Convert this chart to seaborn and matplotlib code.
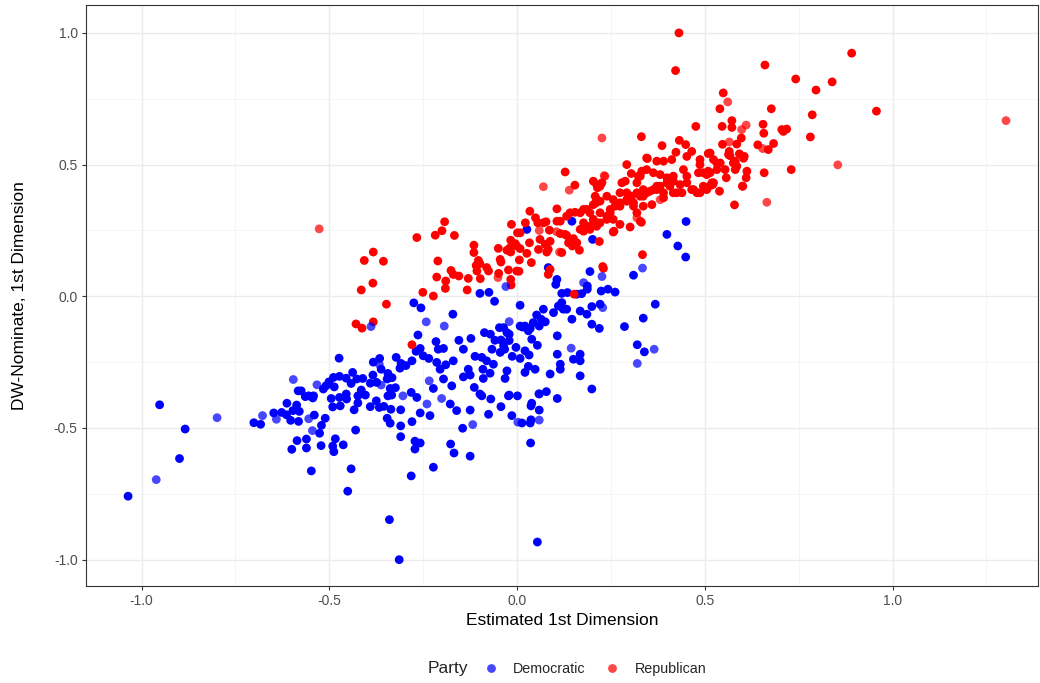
import pandas as pd
import numpy as np
import seaborn as sns
import matplotlib.pyplot as plt
from matplotlib.ticker import FormatStrFormatter

# --- data (estimated 1st dim vs DW-Nominate) ---
dem_x = [
    -1.036, -0.952, -0.899, -0.884, -0.701, -0.683, -0.648, -0.627, -0.614, -0.603,
    -0.582, -0.613, -0.587, -0.597, -0.580, -0.583, -0.575, -0.564, -0.555, -0.544,
    -0.540, -0.511, -0.521, -0.526, -0.586, -0.600, -0.561, -0.561, -0.522, -0.548,
    -0.491, -0.488, -0.484, -0.463, -0.442, -0.451, -0.340, -0.430, -0.516, -0.501,
    -0.509, -0.487, -0.473, -0.474, -0.455, -0.438, -0.427, -0.411, -0.442, -0.491,
    -0.471, -0.495, -0.473, -0.455, -0.424, -0.424, -0.404, -0.415, -0.434, -0.391,
    -0.375, -0.367, -0.355, -0.336, -0.310, -0.346, -0.338, -0.310, -0.310, -0.383,
    -0.366, -0.384, -0.391, -0.344, -0.346, -0.333, -0.322, -0.309, -0.338, -0.324,
    -0.344, -0.275, -0.256, -0.264, -0.171, -0.099, -0.075, -0.060, 0.008, -0.047,
    -0.036, -0.312, -0.296, -0.280, -0.269, -0.258, -0.250, -0.235, -0.216, -0.210,
    -0.196, -0.214, -0.205, -0.190, -0.170, -0.155, -0.143, -0.123, -0.112, -0.094,
    -0.087, -0.071, -0.059, -0.043, -0.021, -0.021, -0.003, 0.015, 0.035, 0.052,
    0.064, 0.075, 0.054, 0.032, 0.008, -0.013, -0.033, -0.067, -0.063, -0.081,
    -0.091, -0.130, -0.125, -0.143, -0.114, -0.099, -0.070, -0.043, -0.021, 0.001,
    0.030, 0.048, 0.059, 0.037, 0.059, 0.013, 0.035, 0.036, -0.014, -0.076,
    -0.125, -0.145, -0.177, -0.168, -0.125, -0.161, -0.178, -0.223, -0.196, -0.174,
    -0.258, -0.232, -0.267, -0.282, -0.489, -0.542, -0.454, -0.280, -0.272, -0.258,
    -0.272, -0.223, -0.362, -0.374, -0.334, 0.026, 0.146, 0.201, 0.399, 0.428,
    0.449, 0.450, 0.083, 0.194, 0.310, 0.106, 0.103, 0.187, 0.187, 0.119,
    0.134, 0.159, 0.172, 0.224, 0.242, 0.261, 0.070, 0.043, 0.059, 0.097,
    0.110, 0.119, 0.123, 0.132, 0.146, 0.168, 0.186, 0.199, 0.221, 0.199,
    0.219, 0.368, 0.336, 0.286, 0.320, 0.339, 0.107, 0.107, 0.115, 0.115,
    0.150, 0.168, 0.168, 0.168, 0.088, 0.008, 0.021, 0.030, 0.039, 0.021,
    -0.027, -0.036, -0.045, -0.027, 0.021, 0.199, 0.107, 0.078, -0.023, -0.094,
    0.039, 0.037, 0.054, -0.090, -0.072, -0.032, -0.314, -0.282,
]
dem_y = [
    -0.759, -0.412, -0.616, -0.504, -0.480, -0.486, -0.443, -0.441, -0.450, -0.471,
    -0.475, -0.406, -0.413, -0.434, -0.437, -0.359, -0.359, -0.381, -0.378, -0.386,
    -0.451, -0.463, -0.490, -0.520, -0.548, -0.581, -0.542, -0.576, -0.567, -0.663,
    -0.569, -0.590, -0.541, -0.564, -0.655, -0.740, -0.848, -0.508, -0.352, -0.325,
    -0.340, -0.344, -0.304, -0.235, -0.311, -0.289, -0.314, -0.312, -0.331, -0.420,
    -0.416, -0.388, -0.384, -0.371, -0.378, -0.405, -0.375, -0.356, -0.431, -0.419,
    -0.397, -0.422, -0.418, -0.429, -0.431, -0.463, -0.482, -0.492, -0.533, -0.250,
    -0.236, -0.299, -0.330, -0.293, -0.314, -0.309, -0.232, -0.255, -0.350, -0.347,
    -0.378, -0.025, -0.044, -0.147, -0.068, 0.011, 0.015, -0.019, -0.034, -0.119,
    -0.119, -0.273, -0.263, -0.245, -0.209, -0.198, -0.226, -0.236, -0.172, -0.201,
    -0.198, -0.251, -0.277, -0.260, -0.245, -0.167, -0.201, -0.160, -0.228, -0.232,
    -0.138, -0.144, -0.167, -0.166, -0.144, -0.168, -0.194, -0.117, -0.122, -0.071,
    -0.087, -0.097, -0.186, -0.223, -0.236, -0.228, -0.201, -0.201, -0.258, -0.245,
    -0.277, -0.277, -0.299, -0.306, -0.346, -0.371, -0.390, -0.419, -0.375, -0.378,
    -0.266, -0.277, -0.371, -0.416, -0.432, -0.481, -0.481, -0.557, -0.453, -0.448,
    -0.432, -0.501, -0.561, -0.595, -0.607, -0.434, -0.409, -0.350, -0.314, -0.340,
    -0.443, -0.453, -0.384, -0.365, -0.308, -0.378, -0.390, -0.476, -0.550, -0.557,
    -0.580, -0.649, -0.277, -0.327, -0.375, 0.254, 0.285, 0.216, 0.235, 0.191,
    0.149, 0.284, 0.109, 0.094, 0.080, 0.064, 0.045, 0.039, 0.027, 0.011,
    0.014, 0.008, 0.010, 0.020, 0.027, 0.016, -0.049, -0.100, -0.113, -0.062,
    -0.037, -0.024, -0.049, -0.049, -0.087, -0.056, -0.068, -0.039, -0.030, -0.106,
    -0.122, -0.030, -0.083, -0.115, -0.184, -0.211, -0.150, -0.220, -0.258, -0.277,
    -0.239, -0.220, -0.245, -0.302, -0.295, -0.113, -0.113, -0.131, -0.163, -0.207,
    -0.138, -0.188, -0.213, -0.283, -0.289, -0.352, -0.388, -0.362, -0.378, -0.378,
    -0.406, -0.469, -0.933, -0.312, -0.292, -0.312, -1.000, -0.682,
]
# single (lighter) Democratic points
dem_faint_x = [
    -0.961, -0.799, -0.678, -0.641, -0.596, -0.533, -0.555, -0.545, -0.367, -0.362,
    -0.304, -0.389, -0.242, -0.194, -0.030, -0.021, 0.059, -0.118, -0.201, -0.234,
    -0.240, 0.226, 0.334, 0.177, 0.228, 0.365, 0.320, 0.144, 0.058, 0.002,
]
dem_faint_y = [
    -0.696, -0.461, -0.453, -0.467, -0.316, -0.336, -0.465, -0.510, -0.258, -0.337,
    -0.378, -0.115, -0.097, -0.113, 0.037, -0.096, -0.470, -0.487, -0.388, -0.321,
    -0.409, 0.075, 0.107, 0.052, -0.043, -0.201, -0.255, -0.197, -0.370, -0.478,
]

rep_x = [
    -0.267, -0.218, -0.200, -0.193, -0.167, -0.115, -0.115, -0.103, -0.099, -0.109,
    -0.107, -0.081, -0.076, -0.098, -0.130, -0.133, -0.223, -0.251, -0.191, -0.190,
    -0.214, -0.176, -0.170, -0.155, -0.211, -0.050, -0.045, -0.043, -0.049, -0.023,
    -0.017, -0.016, -0.027, -0.017, -0.015, -0.017, -0.005, 0.001, -0.001, -0.407,
    -0.383, -0.356, -0.384, -0.415, -0.348, -0.429, -0.413, -0.383, -0.280, 0.154,
    0.203, 0.212, 0.210, 0.106, 0.034, 0.049, 0.077, 0.055, 0.022, 0.008,
    0.086, 0.106, 0.132, 0.154, 0.177, 0.194, 0.115, 0.132, 0.150, 0.137,
    0.159, 0.177, 0.186, 0.212, 0.033, 0.061, 0.075, 0.088, 0.079, 0.083,
    0.057, 0.147, 0.166, -0.001, -0.019, 0.008, 0.026, 0.006, 0.038, 0.005,
    0.088, 0.083, 0.212, 0.221, 0.070, 0.141, 0.168, 0.203, 0.221, 0.239,
    0.219, 0.256, 0.248, 0.261, 0.274, 0.292, 0.310, 0.328, 0.345, 0.363,
    0.381, 0.399, 0.301, 0.331, 0.359, 0.390, 0.416, 0.439, 0.487, 0.514,
    0.539, 0.579, 0.600, 0.334, 0.230, 0.152, 0.128, 0.226, 0.214, 0.292,
    0.304, 0.347, 0.372, 0.390, 0.423, 0.452, 0.465, 0.509, 0.532, 0.563,
    0.576, 0.581, 0.487, 0.496, 0.509, 0.523, 0.505, 0.465, 0.452, 0.434,
    0.416, 0.399, 0.381, 0.363, 0.345, 0.332, 0.323, 0.288, 0.279, 0.292,
    0.305, 0.319, 0.336, 0.354, 0.372, 0.390, 0.256, 0.266, 0.248, 0.239,
    0.256, 0.328, 0.208, 0.221, 0.203, 0.221, 0.203, 0.186, 0.168, 0.177,
    0.212, 0.194, 0.115, 0.128, 0.258, 0.274, 0.228, 0.119, 0.431, 0.422,
    0.660, 0.742, 0.891, 0.839, 0.796, 0.549, 0.540, 0.677, 0.786, 0.957,
    0.781, 0.730, 0.476, 0.546, 0.572, 0.572, 0.655, 0.657, 0.705, 0.718,
    0.709, 0.331, 0.386, 0.432, 0.449, 0.345, 0.412, 0.547, 0.585, 0.597,
    0.641, 0.669, 0.683, 0.565, 0.567, 0.581, 0.585, 0.605, 0.612, 0.610,
    0.601, 0.658, 0.514, 0.523, 0.541, 0.554, 0.557, 0.483, 0.505, 0.519,
    0.496, 0.479, 0.443, 0.452, 0.425, 0.407, 0.416, 0.372, 0.336, 0.319,
    0.328, 0.274, 0.239, 0.292, 0.310, 0.336, 0.274, 0.319, 0.487, 0.532,
    0.514, 0.521, 0.470, 0.592, 0.603,
]
rep_y = [
    0.223, 0.232, 0.249, 0.283, 0.231, 0.194, 0.166, 0.136, 0.124, 0.117,
    0.096, 0.109, 0.096, 0.067, 0.068, 0.024, 0.001, 0.015, 0.030, 0.058,
    0.073, 0.098, 0.083, 0.077, 0.134, 0.182, 0.140, 0.130, 0.087, 0.100,
    0.064, 0.043, 0.175, 0.168, 0.273, 0.213, 0.200, 0.241, 0.096, 0.136,
    0.168, 0.133, 0.050, 0.024, -0.030, -0.105, -0.121, -0.097, -0.184, 0.422,
    0.437, 0.367, 0.355, 0.332, 0.323, 0.298, 0.283, 0.279, 0.279, 0.241,
    0.251, 0.285, 0.304, 0.319, 0.330, 0.317, 0.238, 0.231, 0.219, 0.203,
    0.203, 0.247, 0.266, 0.279, 0.203, 0.216, 0.197, 0.209, 0.168, 0.178,
    0.178, 0.191, 0.175, 0.191, 0.184, 0.181, 0.163, 0.138, 0.128, 0.095,
    0.102, 0.083, 0.424, 0.418, 0.279, 0.317, 0.254, 0.279, 0.279, 0.292,
    0.208, 0.244, 0.317, 0.342, 0.355, 0.367, 0.355, 0.380, 0.393, 0.405,
    0.418, 0.431, 0.263, 0.281, 0.348, 0.374, 0.393, 0.393, 0.393, 0.420,
    0.399, 0.347, 0.418, 0.158, 0.106, 0.008, 0.472, 0.431, 0.412, 0.500,
    0.466, 0.523, 0.513, 0.513, 0.547, 0.531, 0.550, 0.542, 0.506, 0.538,
    0.506, 0.481, 0.500, 0.469, 0.475, 0.431, 0.405, 0.405, 0.431, 0.424,
    0.437, 0.450, 0.462, 0.469, 0.481, 0.475, 0.456, 0.437, 0.431, 0.393,
    0.380, 0.393, 0.380, 0.399, 0.405, 0.393, 0.367, 0.348, 0.330, 0.304,
    0.292, 0.285, 0.380, 0.361, 0.348, 0.317, 0.292, 0.330, 0.317, 0.279,
    0.266, 0.254, 0.285, 0.235, 0.247, 0.273, 0.113, 0.166, 1.000, 0.857,
    0.878, 0.825, 0.923, 0.814, 0.783, 0.772, 0.712, 0.712, 0.689, 0.703,
    0.605, 0.481, 0.645, 0.645, 0.667, 0.641, 0.653, 0.619, 0.633, 0.635,
    0.626, 0.606, 0.572, 0.592, 0.576, 0.525, 0.519, 0.577, 0.578, 0.601,
    0.575, 0.557, 0.580, 0.550, 0.534, 0.513, 0.494, 0.531, 0.475, 0.450,
    0.418, 0.469, 0.544, 0.519, 0.506, 0.481, 0.450, 0.469, 0.462, 0.431,
    0.418, 0.393, 0.481, 0.456, 0.393, 0.418, 0.456, 0.418, 0.405, 0.431,
    0.456, 0.393, 0.380, 0.361, 0.342, 0.342, 0.342, 0.317, 0.519, 0.481,
    0.469, 0.424, 0.405, 0.541, 0.524,
]
# single (lighter) Republican points
rep_faint_x = [
    -0.527, -0.051, 0.070, 0.139, 0.059, 0.105, 0.113, 0.319, 0.232, 0.381,
    0.561, 0.854, 0.665, 0.598, 0.610, 0.226, 0.565, 0.654, 0.234, 1.302,
]
rep_faint_y = [
    0.256, 0.071, 0.416, 0.403, 0.250, 0.245, 0.168, 0.298, 0.458, 0.367,
    0.738, 0.499, 0.357, 0.633, 0.650, 0.601, 0.586, 0.561, 0.456, 0.667,
]

parties = ["Democratic", "Republican"]
party_colors = {"Democratic": "#0000FF", "Republican": "#FF0000"}

df = pd.concat([
    pd.DataFrame({"est": dem_x, "dw": dem_y, "Party": "Democratic"}),
    pd.DataFrame({"est": rep_x, "dw": rep_y, "Party": "Republican"}),
], ignore_index=True)
df_faint = pd.concat([
    pd.DataFrame({"est": dem_faint_x, "dw": dem_faint_y, "Party": "Democratic"}),
    pd.DataFrame({"est": rep_faint_x, "dw": rep_faint_y, "Party": "Republican"}),
], ignore_index=True)

sns.set_theme(style="white")
plt.rcParams["font.family"] = ["Liberation Sans", "DejaVu Sans"]
plt.rcParams["axes.unicode_minus"] = False

fig, ax = plt.subplots(figsize=(10.4, 6.83), dpi=100)
fig.subplots_adjust(left=0.0827, right=0.998, top=0.9927, bottom=0.142)

sns.scatterplot(data=df, x="est", y="dw", hue="Party", hue_order=parties,
                palette=party_colors, s=40, linewidth=0, alpha=1.0, ax=ax)
sns.scatterplot(data=df_faint, x="est", y="dw", hue="Party", hue_order=parties,
                palette=party_colors, s=40, linewidth=0, alpha=0.72,
                legend=False, ax=ax)

# theme_bw look
ax.set_xlim(-1.148, 1.387)
ax.set_ylim(-1.1, 1.106)
ax.set_xticks([-1.0, -0.5, 0.0, 0.5, 1.0])
ax.set_yticks([-1.0, -0.5, 0.0, 0.5, 1.0])
ax.set_xticks([-0.75, -0.25, 0.25, 0.75, 1.25], minor=True)
ax.set_yticks([-0.75, -0.25, 0.25, 0.75], minor=True)
ax.xaxis.set_major_formatter(FormatStrFormatter("%.1f"))
ax.yaxis.set_major_formatter(FormatStrFormatter("%.1f"))
ax.grid(which="major", color="#EBEBEB", linewidth=1.0)
ax.grid(which="minor", color="#F4F4F4", linewidth=0.6)
ax.set_axisbelow(True)
for sp in ax.spines.values():
    sp.set_color("#333333")
    sp.set_linewidth(0.8)
ax.tick_params(which="major", direction="out", length=3.0, width=0.8,
               color="#333333", labelsize=10, labelcolor="#4D4D4D", pad=3,
               bottom=True, left=True)
ax.tick_params(which="minor", length=0, bottom=False, left=False)

ax.set_xlabel("Estimated 1st Dimension", fontsize=12.5, color="black")
ax.set_ylabel("DW-Nominate, 1st Dimension", fontsize=12.5, color="black")
ax.xaxis.set_label_coords(0.5, -0.047)
ax.yaxis.set_label_coords(-0.062, 0.5)

# legend at the bottom, title on the left
sns.move_legend(ax, "center", bbox_to_anchor=(0.5685, 0.0205),
                bbox_transform=fig.transFigure, ncol=2, title=None,
                frameon=False, fontsize=10.3, handletextpad=0.55,
                columnspacing=0.9, markerscale=1.0)
for h in ax.get_legend().legend_handles:
    h.set_alpha(0.72)
fig.text(0.4115, 0.0205, "Party", fontsize=12.5, va="center", ha="left")

plt.savefig("out.png", dpi=100)
